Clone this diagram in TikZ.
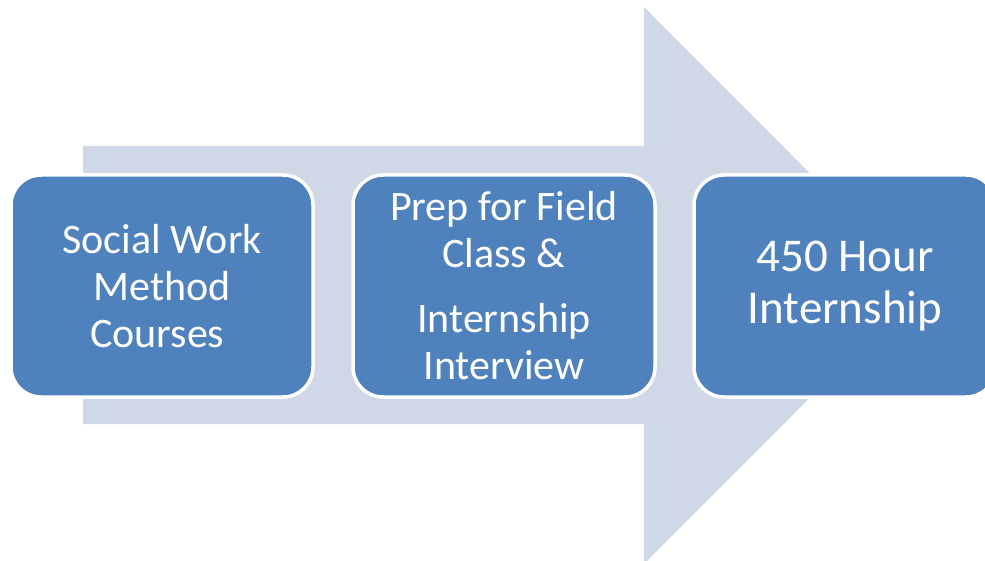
\documentclass[tikz,border=0pt]{standalone}
\usepackage{fontspec}
\setmainfont{Carlito}
\definecolor{arrowfill}{HTML}{D0D8E8}
\definecolor{boxfill}{HTML}{4F81BD}
\begin{document}
\begin{tikzpicture}[x=1pt,y=-1pt,
  stepbox/.style={draw=white,line width=3.5pt,fill=boxfill,rounded corners=30pt,
    minimum width=302pt,minimum height=222pt,text=white,align=center,inner sep=0pt,
    font=\fontsize{42}{47}\selectfont},
  bigtext/.style={font=\fontsize{47}{52}\selectfont}]
\useasboundingbox (0,0) rectangle (985,561);
\clip (0,0) rectangle (985,561);
\fill[arrowfill] (83,146) -- (644,146) -- (644,7) -- (922,285.5) -- (644,564) -- (644,424) -- (83,424) -- cycle;
\node[stepbox] (b1) at (162,286) {Social Work\\Method\\Courses\kern9.5pt\mbox{}};
\node[stepbox] (b2) at (504,286) {Prep for Field\\Class \&\\[18pt]Internship\\Interview};
\node[stepbox,bigtext] (b3) at (845,286) {450 Hour\\Internship};
\end{tikzpicture}
\end{document}
